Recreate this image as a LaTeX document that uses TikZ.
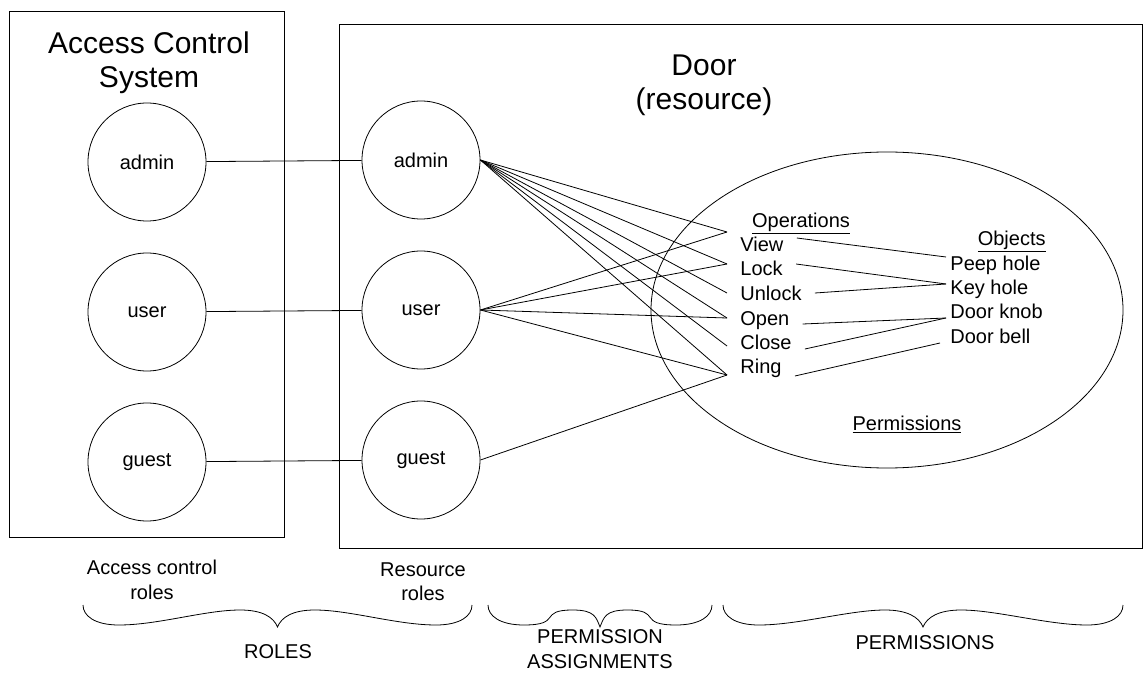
\documentclass[tikz,border=0pt]{standalone}
\usepackage{fontspec}
\setmainfont{Liberation Sans}
\usetikzlibrary{calc}

% curly brace under a group, tip pointing down
\newcommand{\curly}[2]{%
  \pgfmathsetmacro{\cm}{(#1+#2)/2}%
  \pgfmathsetmacro{\cs}{0.12*(#2-#1)/2+14}%
  \draw (#1,605) .. controls (#1,616) and ({#1+12},625) .. ({#1+36},625)
    .. controls ({#1+75},625) and ({\cm-\cs-35},610) .. ({\cm-\cs},610)
    .. controls ({\cm-\cs+22},610) and ({\cm-4},617) .. (\cm,627)
    .. controls ({\cm+4},617) and ({\cm+\cs-22},610) .. ({\cm+\cs},610)
    .. controls ({\cm+\cs+35},610) and ({#2-75},625) .. ({#2-36},625)
    .. controls ({#2-12},625) and (#2,616) .. (#2,605);}

\begin{document}
\begin{tikzpicture}[x=0.75pt,y=-0.75pt,line width=0.6pt,node distance=112.5pt,
  every node/.style={font=\fontsize{15}{18.3}\selectfont},
  role/.style={circle,draw,minimum size=88.5pt,inner sep=0pt},
  title/.style={align=center,font=\fontsize{22.5}{25.5}\selectfont},
  item/.style={anchor=west,inner xsep=9.75pt,inner ysep=0pt,text height=10.7pt,text depth=0pt},
  thing/.style={anchor=west,inner xsep=3pt,inner ysep=0pt,text height=10.7pt,text depth=0pt},
  head/.style={inner sep=0pt,text height=10.7pt,text depth=0pt},
  note/.style={align=center}]
			\useasboundingbox (0,0) rectangle (1145,673);
			% the two systems
			\draw (9,11) rectangle (284,537);
			\draw (339,24) rectangle (1142,548);
			\node[title] (acs) at (149,63) {Access Control\\System};
			\node[title] (door) at (704,85) {Door\\(resource)};
			% roles
			\node[role] (acsAdmin) at (147,162) {admin};
			\node[role] (acsUser) [below of=acsAdmin] {user};
			\node[role] (acsGuest) [below of=acsUser] {guest};
			\node[role] (resAdmin) at (421,160) {admin};
			\node[role] (resUser) [below of=resAdmin] {user};
			\node[role] (resGuest) [below of=resUser] {guest};
			% permissions
			\draw (887,310) ellipse [x radius=236, y radius=158];
			\node[head] (ops) at (801,220) {\underline{Operations}};
			\node[item] (view) at (727,244) {View};
			\node[item] (lock) at (727,268) {Lock};
			\node[item] (unlock) at (727,293) {Unlock};
			\node[item] (open) at (727,318) {Open};
			\node[item] (close) at (727,342) {Close};
			\node[item] (ring) at (727,366) {Ring};
			\node[head,anchor=east] (objs) at (1046,238) {\underline{Objects}};
			\node[thing] (peep) at (946,263) {Peep hole};
			\node[thing] (key) at (946,287) {Key hole};
			\node[thing] (knob) at (946,311) {Door knob};
			\node[thing] (bell) at (946,336) {Door bell};
			\node[head] (perms) at (907,423) {\underline{Permissions}};
			\coordinate (viewIn) at ($(view.west)+(0,-12)$);
			\coordinate (lockIn) at ($(lock.west)+(0,-4)$);
			\coordinate (closeIn) at ($(close.west)+(0,4)$);
			\coordinate (ringIn) at ($(ring.west)+(0,9)$);
			\path
			(acsAdmin) edge (resAdmin)
			(acsUser) edge (resUser)
			(acsGuest) edge (resGuest)
			(resAdmin.east) edge (viewIn) edge (lockIn) edge (unlock.west) edge (open.west) edge (closeIn) edge (ringIn)
			(resUser.east) edge (viewIn) edge (lockIn) edge (open.west) edge (ringIn)
			(resGuest.east) edge (ringIn);
			\path
			($(view.east)+(0,-6)$) edge ($(peep.west)+(0,-6)$)
			($(lock.east)+(0,-4)$) edge ($(key.west)+(0,-3)$)
			(unlock.east) edge ($(key.west)+(0,-3)$)
			($(open.east)+(0,6)$) edge ($(knob.west)+(0,7)$)
			($(close.east)+(0,7)$) edge ($(knob.west)+(0,7)$)
			($(ring.east)+(0,10)$) edge ($(bell.west)+(-6,7)$);
			% braces underneath
			\node[note] (acsRoles) at (152,580) {Access control\\roles};
			\node[note] (resRoles) at (423,582) {Resource\\roles};
			\curly{83}{472}
			\curly{488}{712}
			\curly{723}{1123}
			\node[note] (roles) at (278,652) {ROLES};
			\node[note] (assign) at (600,649) {PERMISSION\\ASSIGNMENTS};
			\node[note] (permsAll) at (925,643) {PERMISSIONS};
		\end{tikzpicture}
\end{document}
